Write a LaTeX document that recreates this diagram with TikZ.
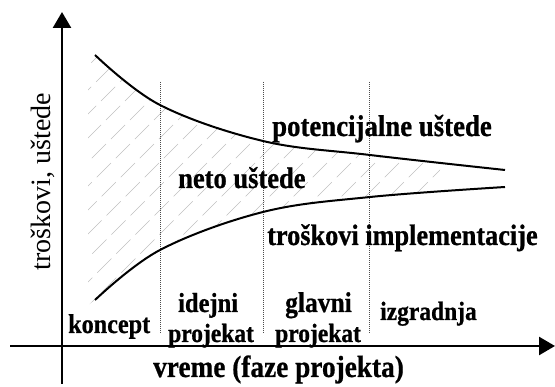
\documentclass[tikz,border=0pt]{standalone}
\usepackage{fontspec}
\setmainfont{Liberation Serif}[BoldFeatures={FakeBold=0.8}]
\usetikzlibrary{arrows.meta}
\tikzset{
  axisline/.style={line width=2.5pt, -{Triangle[length=16pt,width=18pt]}},
  curveline/.style={line width=2pt},
  hatchline/.style={line width=0.6pt, gray!50, dash pattern=on 20pt off 7pt},
  dotline/.style={line width=0.8pt, gray!60!black, dash pattern=on 0.9pt off 1.1pt},
  lbl/.style={inner sep=0pt, anchor=base west, text=black, yscale=1.12},
}
\newcommand{\fs}[1]{\fontsize{#1}{#1}\selectfont}
\begin{document}
\begin{tikzpicture}[x=1pt,y=-1pt]
\useasboundingbox (0,0) rectangle (555,387);
% axes
\coordinate (yb) at (62,384);
\coordinate (yt) at (62,12);
\coordinate (xl) at (10,346);
\coordinate (xr) at (555,346);
% hatching
\begin{scope}
\clip (88,48) -- plot[smooth,tension=0.6] coordinates {(95,55) (160,105) (263,141) (370,155) (440,162.5)}
  -- (440,192) -- plot[smooth,tension=0.6] coordinates {(370,197) (263,212) (160,250) (95,300)} -- (88,305) -- cycle;
\foreach \c in {130,154,...,660} {
  \draw[hatchline] (\c-330,330) -- (\c-30,30);
}
\end{scope}
% dotted phase separators
\foreach \x/\n in {160/a,263/b,369/c} {
  \coordinate (d\n t) at (\x,82);
  \coordinate (d\n b) at (\x,333);
  \draw[dotline] (d\n t) -- (d\n b);
}
% curves
\draw[curveline] plot[smooth,tension=0.6] coordinates {(95,55) (160,105) (263,141) (370,155) (505,170)};
\draw[curveline] plot[smooth,tension=0.6] coordinates {(95,300) (160,250) (263,212) (370,197) (505,187)};
% axes drawn
\draw[axisline] (yb) -- (yt);
\draw[axisline] (xl) -- (xr);
% labels
\node[lbl, font=\fs{26.8}\bfseries] (pot) at (272,136) {potencijalne uštede};
\node[lbl, font=\fs{26.5}\bfseries] (neto) at (178,188) {neto uštede};
\node[lbl, font=\fs{26.3}\bfseries] (trosk) at (267,245) {troškovi implementacije};
\node[lbl, font=\fs{24.2}\bfseries] (konc) at (68,333) {koncept};
\node[lbl, font=\fs{24.5}\bfseries] (idej) at (178,312) {idejni};
\node[lbl, font=\fs{23.5}\bfseries] (proj1) at (168,342) {projekat};
\node[lbl, font=\fs{25.5}\bfseries] (glav) at (285,312) {glavni};
\node[lbl, font=\fs{23.5}\bfseries] (proj2) at (275,342) {projekat};
\node[lbl, font=\fs{23.5}\bfseries] (izg) at (380,320) {izgradnja};
\node[lbl, font=\fs{27.3}\bfseries] (vreme) at (153,377) {vreme (faze projekta)};
\node[inner sep=0pt, anchor=base, rotate=90, font=\fs{28}] (ylab) at (50,181.5) {troškovi, uštede};
\end{tikzpicture}
\end{document}
